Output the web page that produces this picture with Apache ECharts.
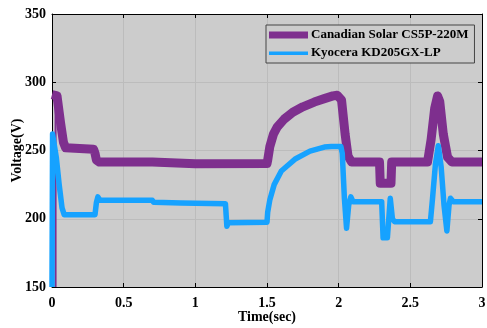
<!DOCTYPE html>
<html>
<head>
<meta charset="utf-8">
<script src="https://cdn.jsdelivr.net/npm/echarts@6/dist/echarts.min.js"></script>
<style>
html,body{margin:0;padding:0;background:#fff;}
#chart{width:487px;height:328px;}
</style>
</head>
<body>
<div id="chart"></div>
<script>
// Output voltage of two PV modules over the simulation run
var seriesNames = ['Canadian Solar CS5P-220M', 'Kyocera KD205GX-LP'];

var canadianTime = [0, 0.035, 0.04, 0.06, 0.08, 0.095, 0.1, 0.29, 0.3, 0.31, 0.33, 0.7, 0.71, 1.0, 1.5,
  1.505, 1.52, 1.545, 1.57, 1.62, 1.68, 1.75, 1.83, 1.9, 1.96, 1.99, 2.02, 2.045, 2.065, 2.09,
  2.285, 2.29, 2.365, 2.37, 2.62, 2.645, 2.67, 2.69, 2.705, 2.73, 2.76, 2.79, 3];
var canadianVolt = [291, 290, 286, 270, 256, 252, 251, 251, 248, 243, 241.5, 241.5, 240.5, 240.3, 240.5,
  243, 253, 262, 267, 273, 278, 282, 285.5, 288, 290, 290.5, 287, 262, 246, 241.5,
  241.5, 226, 226, 241.5, 241.5, 258, 281, 290, 286, 262, 245, 241.5, 241.5];

var kyoceraTime = [0, 0.004, 0.03, 0.05, 0.07, 0.085, 0.3, 0.31, 0.32, 0.335, 0.7, 0.71, 0.9, 1.21, 1.22, 1.23,
  1.5, 1.505, 1.52, 1.55, 1.6, 1.7, 1.8, 1.9, 1.95, 2.015, 2.025, 2.04, 2.055, 2.07, 2.085, 2.1,
  2.3, 2.31, 2.34, 2.36, 2.375, 2.39, 2.64, 2.655, 2.675, 2.695, 2.715, 2.735, 2.755, 2.77, 2.78, 2.8, 3];
var kyoceraVolt = [150, 262, 245, 225, 208, 203, 203, 212, 216, 213.5, 213.5, 212, 211.5, 211, 194.5, 197,
  197.5, 205, 214, 225, 235, 244, 249.5, 252.5, 253, 253, 248, 215, 193, 210, 216, 212.5,
  212.5, 186, 186, 215, 200, 197.8, 197.8, 215, 240, 253.5, 238, 210, 191, 210, 215, 212.5, 212.5];

// start-up transient of the Canadian Solar module
var startTime = [0.025, 0.025];
var startVolt = [150, 290];

var xTicks = [0, 0.5, 1, 1.5, 2, 2.5, 3];
var yTicks = [150, 200, 250, 300, 350];

function pairs(t, v) { return t.map(function (x, i) { return [x, v[i]]; }); }

var purple = '#7E2F8E';
var blue = '#16A2FF';
var font = 'Liberation Serif';

// legend swatches: a thick bar and a thin bar inside the same 39x14 box
var thickBar = 'path://M0,0M0,3.5h39v7h-39zM39,14';
var thinBar = 'path://M0,0M0,5.5h39v3.5h-39zM39,14';

var chart = echarts.init(document.getElementById('chart'), null, { renderer: 'canvas' });
var tickInside = { show: true, inside: true, length: 4, lineStyle: { color: '#000' } };
chart.setOption({
  animation: false,
  textStyle: { fontFamily: font },
  grid: { left: 52, right: 5, top: 14, bottom: 41, containLabel: false, outerBoundsMode: 'none',
    show: true, backgroundColor: '#cccccc', borderWidth: 0 },
  legend: {
    data: [
      { name: seriesNames[0], icon: thickBar, itemStyle: { color: purple } },
      { name: seriesNames[1], icon: thinBar, itemStyle: { color: blue } }
    ],
    orient: 'vertical',
    left: 266, top: 25,
    padding: [3, 6, 3, 3],
    itemGap: 4,
    itemWidth: 39, itemHeight: 14,
    symbolKeepAspect: false,
    backgroundColor: '#cccccc',
    borderColor: '#444', borderWidth: 1,
    textStyle: { fontFamily: font, fontWeight: 'bold', fontSize: 13, color: '#000', padding: [0, 0, 0, -2] }
  },
  xAxis: [{
    type: 'value', min: xTicks[0], max: xTicks[xTicks.length - 1], interval: 0.5,
    name: 'Time(sec)', nameLocation: 'middle', nameGap: 23, nameMoveOverlap: false,
    nameTextStyle: { fontFamily: font, fontWeight: 'bold', fontSize: 14, color: '#000' },
    axisLine: { show: true, lineStyle: { color: '#000', width: 1 } },
    axisTick: tickInside,
    axisLabel: { fontFamily: font, fontWeight: 'bold', fontSize: 14, color: '#000', margin: 9 },
    splitLine: { show: true, lineStyle: { color: '#bcbcbc', width: 1 } }
  }, {
    type: 'value', position: 'top', min: xTicks[0], max: xTicks[xTicks.length - 1], interval: 0.5,
    axisLine: { show: true, onZero: false, lineStyle: { color: '#000', width: 1 } },
    axisTick: tickInside, axisLabel: { show: false }, splitLine: { show: false }
  }],
  yAxis: [{
    type: 'value', min: yTicks[0], max: yTicks[yTicks.length - 1], interval: 50,
    name: 'Voltage(V)', nameLocation: 'middle', nameGap: 28, nameRotate: 90, nameMoveOverlap: false,
    nameTextStyle: { fontFamily: font, fontWeight: 'bold', fontSize: 14, color: '#000' },
    axisLine: { show: true, lineStyle: { color: '#000', width: 1 } },
    axisTick: tickInside,
    axisLabel: { fontFamily: font, fontWeight: 'bold', fontSize: 14, color: '#000', margin: 6 },
    splitLine: { show: true, lineStyle: { color: '#bcbcbc', width: 1 } }
  }, {
    type: 'value', position: 'right', min: yTicks[0], max: yTicks[yTicks.length - 1], interval: 50,
    axisLine: { show: true, onZero: false, lineStyle: { color: '#000', width: 1 } },
    axisTick: tickInside, axisLabel: { show: false }, splitLine: { show: false }
  }],
  series: [{
    name: 'start', type: 'line', data: pairs(startTime, startVolt), showSymbol: false, symbol: 'none',
    lineStyle: { color: purple, width: 2 }, itemStyle: { color: purple }, silent: true, z: 1
  }, {
    name: seriesNames[0], type: 'line', data: pairs(canadianTime, canadianVolt), showSymbol: false, symbol: 'none',
    lineStyle: { color: purple, width: 9, join: 'round', cap: 'butt' }, itemStyle: { color: purple }, z: 2
  }, {
    name: seriesNames[1], type: 'line', data: pairs(kyoceraTime, kyoceraVolt), showSymbol: false, symbol: 'none',
    lineStyle: { color: blue, width: 5.5, join: 'round' }, itemStyle: { color: blue }, z: 3
  }]
});
</script>
</body>
</html>
